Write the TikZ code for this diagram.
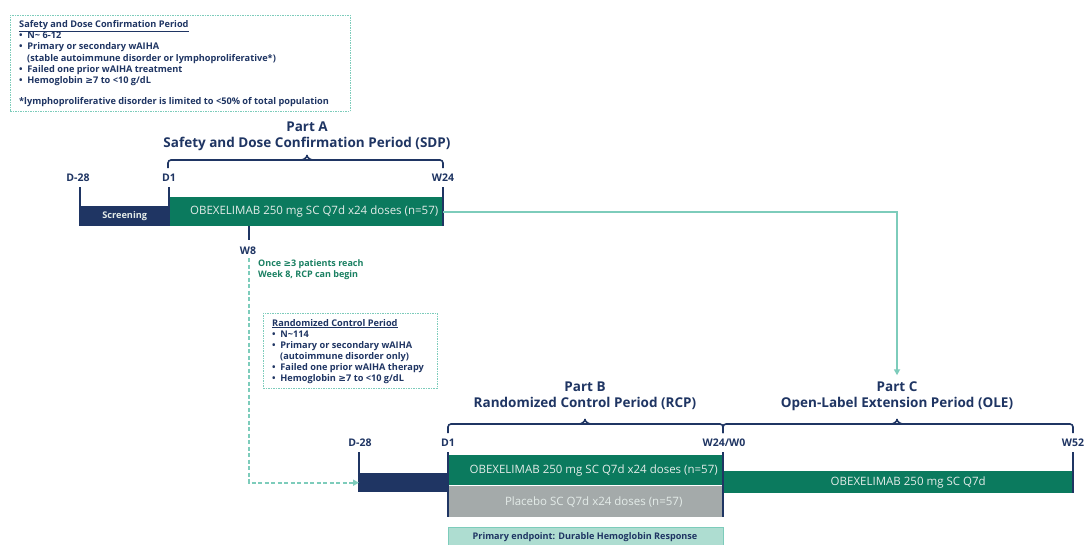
\documentclass[tikz,border=0pt]{standalone}
\usepackage{fontspec}
\setmainfont{Open Sans}
\newfontfamily\symfont{DejaVu Sans}
\newcommand\mygeq{{\symfont ≥}}
\usetikzlibrary{arrows.meta}
\definecolor{navy}{HTML}{1F3563}
\definecolor{dgreen}{HTML}{0B7A5E}
\definecolor{teal}{HTML}{7DCCBB}
\definecolor{greybar}{HTML}{A4AAAA}
\definecolor{lteal}{HTML}{AEDDD1}
\definecolor{tgreen}{HTML}{1A8062}
\definecolor{btext}{HTML}{E4ECE9}
\tikzset{
  lbl/.style={font=\fontsize{10.5}{12}\selectfont\bfseries, text=navy, inner sep=0pt},
  title/.style={font=\fontsize{13.5}{16}\selectfont\bfseries, text=navy, align=center, inner sep=0pt},
  tick/.style={draw=navy, line width=1.8pt},
  brace/.style={draw=navy, line width=1.6pt, rounded corners=3pt},
  bar/.style={anchor=north west, inner sep=0pt, font=\fontsize{11.5}{13}\selectfont, text=btext},
  dbox/.style={draw=teal, line width=0.9pt, dash pattern=on 1.5pt off 1pt, anchor=north west, inner sep=0pt},
  boxtext/.style={anchor=north west, align=left, inner sep=0pt, text=navy, font=\fontsize{9.2}{11}\selectfont\bfseries},
  conn/.style={draw=teal, line width=1.6pt},
}
\begin{document}
\begin{tikzpicture}[x=1pt,y=-1pt]
\useasboundingbox[fill=white] (0,0) rectangle (1086,544);
% Box 1
\node[dbox, minimum width=340, minimum height=96] (box1) at (10,15) {};
\node[boxtext] (box1t) at (19,20) {\underline{Safety and Dose Confirmation Period}\\
• \ N\textasciitilde{} 6-12\\
• \ Primary or secondary wAIHA\\[1pt]
\hspace*{8pt}(stable autoimmune disorder or lymphoproliferative*)\\
• \ Failed one prior wAIHA treatment\\
• \ Hemoglobin \mygeq7 to <10 g/dL\\[10pt]
*lymphoproliferative disorder is limited to <50\% of total population};
% Part A
\node[title] (partA) at (307,136) {Part A\\Safety and Dose Confirmation Period (SDP)};
\draw[brace] (168,168) -- (168,160) -- (443,160) -- (443,168);
\draw[brace] (301,160) to[out=0,in=-90] (307,153) to[out=-90,in=180] (313,160);
\node[lbl] (aD28) at (78,178) {D-28};
\node[lbl] (aD1) at (169,178) {D1};
\node[lbl] (aW24) at (443,178) {W24};
\node[bar, fill=navy, minimum width=89, minimum height=20, font=\fontsize{9.2}{10}\selectfont\bfseries] (scrA) at (80,206) {Screening};
\node[bar, fill=dgreen, minimum width=274, minimum height=29] (barA) at (169,197) {\hspace*{16pt}OBEXELIMAB 250 mg SC Q7d x24 doses (n=57)};
\draw[tick] (80,187) -- (80,226);
\draw[tick] (169,187) -- (169,226);
\draw[tick] (443,187) -- (443,226);
\draw[tick] (249,226) -- (249,240);
\node[lbl] (w8) at (248,251) {W8};
\node[boxtext, text=tgreen, font=\fontsize{9}{11}\selectfont\bfseries] (once) at (258,259) {Once \mygeq3 patients reach\\Week 8, RCP can begin};
\coordinate (w8d) at (249,258);
% RCP box
\node[dbox, minimum width=174, minimum height=75] (box2) at (263,313) {};
\node[boxtext] (box2t) at (272,319) {\underline{Randomized Control Period}\\
• \ N\textasciitilde114\\
• \ Primary or secondary wAIHA\\
\hspace*{8pt}(autoimmune disorder only)\\
• \ Failed one prior wAIHA therapy\\
• \ Hemoglobin \mygeq7 to <10 g/dL};
% Part B / C titles
\node[title] (partB) at (585,396) {Part B\\Randomized Control Period (RCP)};
\node[title] (partC) at (897,396) {Part C\\Open-Label Extension Period (OLE)};
\draw[brace] (448,433) -- (448,424) -- (723,424) -- (723,433);
\draw[brace] (579,424) to[out=0,in=-90] (585,417) to[out=-90,in=180] (591,424);
\draw[brace] (723,433) -- (723,424) -- (1073,424) -- (1073,433);
\draw[brace] (891,424) to[out=0,in=-90] (897,417) to[out=-90,in=180] (903,424);
\node[lbl] (bD28) at (360,443) {D-28};
\node[lbl] (bD1) at (448,443) {D1};
\node[lbl] (bW24) at (724,443) {W24/W0};
\node[lbl] (cW52) at (1073,443) {W52};
% bars B
\node[bar, fill=navy, minimum width=89, minimum height=19] (scrB) at (359,473) {};
\node[bar, fill=dgreen, minimum width=275, minimum height=30] (barB) at (448,455) {\hspace*{16pt}OBEXELIMAB 250 mg SC Q7d x24 doses (n=57)};
\node[bar, fill=greybar, minimum width=275, minimum height=31] (plac) at (448,486) {\hspace*{16pt}Placebo SC Q7d x24 doses (n=57)};
\node[bar, fill=dgreen, minimum width=350, minimum height=22] (barC) at (723,471) {\hspace*{20pt}OBEXELIMAB 250 mg SC Q7d};
\draw[tick] (359,452) -- (359,492);
\draw[tick] (448,452) -- (448,517);
\draw[tick] (723,452) -- (723,517);
\draw[tick] (1073,452) -- (1073,493);
\node[anchor=north west, fill=lteal, draw=teal, line width=1.2pt, minimum width=275, minimum height=24, inner sep=0pt] (endp) at (448,527) {};
\node[font=\fontsize{9.1}{10}\selectfont\bfseries, text=navy, inner sep=0pt] (endt) at (585,537) {Primary endpoint: Durable Hemoglobin Response};
% connectors
\draw[conn, -{Triangle[length=6pt,width=6pt]}] (barA.east) -| ([yshift=6pt]partC.north);
\draw[conn, dash pattern=on 4pt off 2.5pt, -{Triangle[length=6pt,width=6pt]}] (w8d) |- (scrB.west);
\end{tikzpicture}
\end{document}
